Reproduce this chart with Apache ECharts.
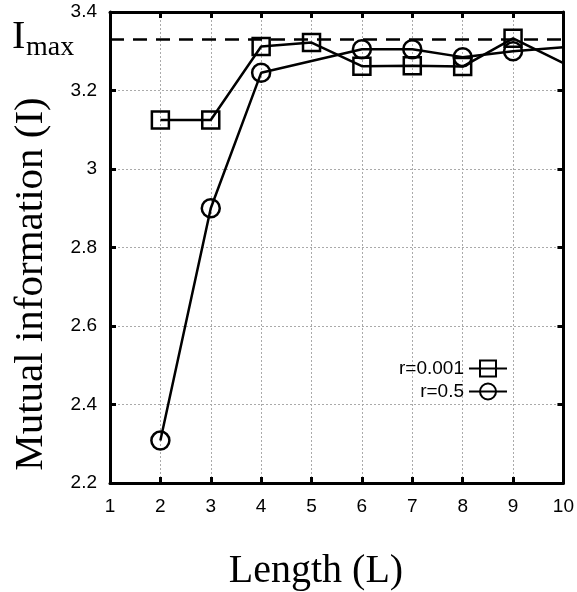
<!DOCTYPE html>
<html>
<head>
<meta charset="utf-8">
<script src="https://cdn.jsdelivr.net/npm/echarts@6/dist/echarts.min.js"></script>
<style>
  html, body { margin: 0; padding: 0; background: #fff; }
  #chart { width: 577px; height: 592px; }
</style>
</head>
<body>
<div id="chart"></div>
<script>
// values
var lengthsSquare = [2, 3, 4, 5, 6, 7, 8, 9, 10];
var infoSquare = [3.125, 3.125, 3.312, 3.322, 3.262, 3.263, 3.261, 3.333, 3.27];
var lengthsCircle = [2, 3, 4, 6, 7, 8, 9, 10];
var infoCircle = [2.308, 2.90, 3.245, 3.305, 3.305, 3.285, 3.30, 3.31];
var iMax = 3.327;
var xTicks = [1, 10, 1];      // min, max, interval
var yTicks = [2.2, 3.4, 0.2];

var SERIF = "'Liberation Serif', 'DejaVu Serif', serif";
var SANS = "'Liberation Sans', Arial, sans-serif";

function toPoints(xs, ys) {
    var pts = [];
    for (var i = 0; i < xs.length; i++) {
        var p = { value: [xs[i], ys[i]] };
        // the last point (L=10) has no marker in the figure
        if (xs[i] == 10) {
            p.symbol = "none";
        }
        pts.push(p);
    }
    return pts;
}

var markerStyle = {
    color: "rgba(0,0,0,0)",
    borderColor: "#000",
    borderWidth: 2.5
};

var chart = echarts.init(document.getElementById("chart"));

var option = {
    animation: false,
    backgroundColor: "#fff",
    grid: {
        left: 110,
        right: 13,
        top: 12,
        bottom: 109
    },
    legend: {
        orient: "vertical",
        right: 64,
        top: 354,
        align: "right",
        itemWidth: 38,
        itemHeight: 20,
        itemGap: 4,
        textStyle: { fontFamily: SANS, fontSize: 19, color: "#000" },
        data: ["r=0.001", "r=0.5"]
    },
    xAxis: [
        {
            type: "value",
            min: xTicks[0],
            max: xTicks[1],
            interval: xTicks[2],
            axisLine: { lineStyle: { color: "#000", width: 3 } },
            axisTick: { inside: true, length: 6, lineStyle: { color: "#000", width: 3 } },
            axisLabel: { fontFamily: SANS, fontSize: 19, color: "#000", margin: 14 },
            splitLine: { show: true, lineStyle: { color: "#aaa", type: [2, 2], width: 1 } }
        },
        {
            type: "value",
            position: "top",
            min: xTicks[0],
            max: xTicks[1],
            interval: xTicks[2],
            axisLine: { lineStyle: { color: "#000", width: 3 } },
            axisTick: { inside: true, length: 6, lineStyle: { color: "#000", width: 3 } },
            axisLabel: { show: false },
            splitLine: { show: false }
        }
    ],
    yAxis: [
        {
            type: "value",
            min: yTicks[0],
            max: yTicks[1],
            interval: yTicks[2],
            axisLine: { show: true, lineStyle: { color: "#000", width: 3 } },
            axisTick: { show: true, inside: true, length: 6, lineStyle: { color: "#000", width: 3 } },
            axisLabel: {
                fontFamily: SANS, fontSize: 19, color: "#000", margin: 13,
                formatter: function (v) { return String(Math.round(v * 10) / 10); }
            },
            splitLine: { show: true, lineStyle: { color: "#aaa", type: [2, 2], width: 1 } }
        },
        {
            type: "value",
            position: "right",
            min: yTicks[0],
            max: yTicks[1],
            interval: yTicks[2],
            axisLine: { show: true, lineStyle: { color: "#000", width: 3 } },
            axisTick: { show: true, inside: true, length: 6, lineStyle: { color: "#000", width: 3 } },
            axisLabel: { show: false },
            splitLine: { show: false }
        }
    ],
    series: [
        {
            name: "r=0.001",
            type: "line",
            symbol: "rect",
            symbolSize: 17,
            data: toPoints(lengthsSquare, infoSquare),
            lineStyle: { color: "#000", width: 2.5 },
            itemStyle: markerStyle,
            markLine: {
                silent: true,
                symbol: ["none", "none"],
                label: { show: false },
                lineStyle: { color: "#000", width: 2.5, type: [14, 9] },
                data: [{ yAxis: iMax }]
            }
        },
        {
            name: "r=0.5",
            type: "line",
            symbol: "circle",
            symbolSize: 18,
            data: toPoints(lengthsCircle, infoCircle),
            lineStyle: { color: "#000", width: 2.5 },
            itemStyle: markerStyle
        }
    ],
    graphic: [
        {
            type: "text",
            left: 12,
            top: 17,
            style: { text: "I", font: "40px " + SERIF, fill: "#000" }
        },
        {
            type: "text",
            left: 26,
            top: 34,
            style: { text: "max", font: "28px " + SERIF, fill: "#000" }
        },
        {
            type: "text",
            x: 31,
            y: 284,
            rotation: Math.PI / 2,
            style: {
                text: "Mutual information (I)",
                font: "41px " + SERIF,
                fill: "#000",
                textAlign: "center",
                textVerticalAlign: "middle"
            }
        },
        {
            type: "text",
            x: 316,
            y: 571,
            style: {
                text: "Length (L)",
                font: "40px " + SERIF,
                fill: "#000",
                textAlign: "center",
                textVerticalAlign: "middle"
            }
        }
    ]
};

chart.setOption(option);
</script>
</body>
</html>
